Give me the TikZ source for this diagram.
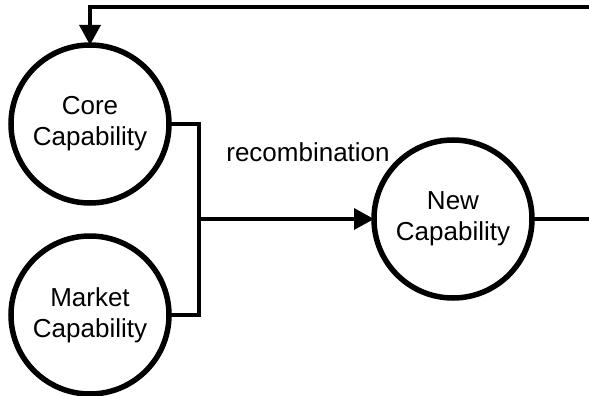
\documentclass[tikz,border=0pt]{standalone}
\usepackage{fontspec}
\setmainfont{Liberation Sans}
\usetikzlibrary{positioning,calc,arrows.meta}

\begin{document}
\begin{tikzpicture}[x=1pt,y=-1pt]
\tikzstyle{capnode}=[draw, circle, line width=5.5pt, minimum size=158pt, inner sep=0pt, outer sep=0pt, align=center, font=\fontsize{26}{31}\selectfont]
\tikzstyle{wire}=[line width=3.2pt]
\tikzstyle{headtip}=[-{Triangle[length=20pt,width=21pt]}]
\pgfmathsetmacro{\gap}{33}
\useasboundingbox (0,0) rectangle (589,396);

\node[capnode] (core) at (90,124) {Core\\Capability};
\node[capnode, below = \gap pt of core] (market) {Market\\Capability};
\node[capnode] (new) at (453,219) {New\\Capability};
\coordinate (join) at (199,219);
\coordinate (back) at (597,7);
\node[font=\fontsize{26}{31}\selectfont, anchor=base] (lbl) at (308,161) {recombination};

\draw[wire] (core.east) -| (join) |- (market.east);
\draw[wire, headtip] (join) -- (new.west);
\draw[wire, headtip] (new.east) -- (back |- new.east) -- (back) -| (core.north);
\end{tikzpicture}
\end{document}
